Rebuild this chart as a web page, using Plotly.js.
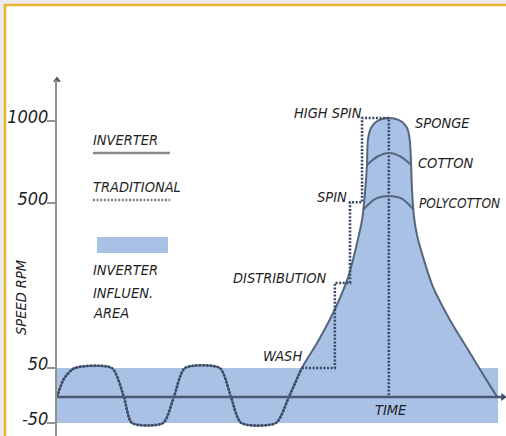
<!DOCTYPE html>
<html><head><meta charset="utf-8">
<script src="https://cdn.plot.ly/plotly-3.0.1.min.js"></script>
<style>html,body{margin:0;padding:0;background:#fff}#chart{width:506px;height:436px}</style>
</head><body><div id="chart"></div>
<script>
// ---- data (time in arbitrary units 0..100, speed in RPM) ----
const tickRPM = [1000, 500, 50, -50];
const tickLabels = ['1000', '500', '50', '-50'];

// wash phase (shared by inverter and traditional)
const washT   = [0, 1.6, 4.0, 12.3, 15.0, 16.8, 23.8, 26.2, 28.7, 36.5, 39.0, 41.3, 49.1, 52.0, 54.9];
const washRPM = [0, 32, 50, 50, 0, -50, -50, 0, 50, 50, 0, -50, -50, 0, 50];

// inverter spin profile
const spinT   = [58.3, 61.9, 65.2, 68.4, 69.1, 69.5, 69.7, 70.4, 71.5, 72.9, 74.4, 76.0, 77.4, 78.5, 79.1, 79.4, 79.6, 80.0, 80.7, 81.8, 84.3, 88.1, 92.6, 96.0, 98.7];
const spinRPM = [118, 200, 295, 454, 579, 732, 884, 957, 994, 1012, 1018, 1012, 994, 957, 884, 732, 579, 467, 413, 364, 271, 181, 91, 33, 0];

// traditional step profile
const tradT   = [54.9, 62.3, 62.3, 65.7, 65.7, 68.4, 68.4, 74.4, 74.4];
const tradRPM = [50, 50, 282, 282, 505, 505, 1018, 1018, 0];

// fabric curves inside the spin peak
const cottonT   = [69.5, 72.0, 74.4, 76.9, 79.4];
const cottonRPM = [732, 785, 805, 785, 732];
const polyT     = [68.6, 71.5, 74.4, 77.3, 80.0];
const polyRPM   = [481, 527, 543, 527, 481];

// inverter influence band
const bandT    = [0, 98.9];
const bandLow  = [-50, -50];
const bandHigh = [50, 50];

// ---- broken speed scale (as drawn on the reference axis) ----
const knotsRPM = [-50, 0, 50, 500, 1000];
const knotsPos = [-26, 0, 29, 194, 276];
function f(r) {
  let i = 0;
  if (r >= knotsRPM[knotsRPM.length - 1]) i = knotsRPM.length - 2;
  else if (r <= knotsRPM[0]) i = 0;
  else { while (r > knotsRPM[i + 1]) i++; }
  const r0 = knotsRPM[i], r1 = knotsRPM[i + 1], p0 = knotsPos[i], p1 = knotsPos[i + 1];
  return p0 + (r - r0) * (p1 - p0) / (r1 - r0);
}
const Y = a => a.map(f);

const FONT = 'DejaVu Sans Condensed, Liberation Sans Narrow, sans-serif';
const TXT = '#1e1e1e';
const BLUE = '#a9c1e5';
const INV = '#56667f';
const TRAD = '#3a4963';

// pixel helpers for decorations (plot area: x 57..503, y 80..436)
const L = 57, T = 80, W = 446, H = 356;
const px = x => (x - L) / W;
const py = y => (T + H - y) / H;

const traces = [
  { x: bandT, y: Y(bandLow), mode: 'lines', line: { width: 0 }, hoverinfo: 'skip' },
  { x: bandT, y: Y(bandHigh), mode: 'lines', line: { width: 0 }, fill: 'tonexty', fillcolor: BLUE, hoverinfo: 'skip' },
  { x: washT.concat(spinT), y: Y(washRPM.concat(spinRPM)), mode: 'lines',
    line: { color: INV, width: 2, shape: 'spline', smoothing: 0.7 }, fill: 'tozeroy', fillcolor: BLUE },
  { x: washT, y: Y(washRPM), mode: 'lines', line: { color: TRAD, width: 2.6, dash: '2px,1.6px', shape: 'spline', smoothing: 0.7 } },
  { x: tradT, y: Y(tradRPM), mode: 'lines', line: { color: TRAD, width: 2.6, dash: '2px,1.6px' } },
  { x: cottonT, y: Y(cottonRPM), mode: 'lines', line: { color: INV, width: 2, shape: 'spline' } },
  { x: polyT, y: Y(polyRPM), mode: 'lines', line: { color: INV, width: 2, shape: 'spline' } },
  { x: [100], y: [0], mode: 'markers', cliponaxis: false, marker: { symbol: 'triangle-right', size: 7, color: '#3a4660' } },
  { x: [0], y: [317], mode: 'markers', cliponaxis: false, marker: { symbol: 'triangle-up', size: 7, color: '#555' } }
];

function ann(text, x, y, xanchor, extra) {
  return Object.assign({ text, x: px(x), y: py(y), xref: 'paper', yref: 'paper', xanchor, yanchor: 'middle',
    showarrow: false, borderpad: 0, font: { family: FONT, size: 14.5, color: TXT, style: 'italic' } }, extra || {});
}

const annotations = [
  ann('HIGH SPIN', 363, 113, 'right'),
  ann('SPONGE', 414, 123, 'left'),
  ann('COTTON', 417, 163, 'left'),
  ann('POLYCOTTON', 418, 203, 'left', { font: { family: FONT, size: 13.5, color: TXT, style: 'italic' } }),
  ann('SPIN', 348, 197, 'right'),
  ann('DISTRIBUTION', 328, 278, 'right'),
  ann('WASH', 303, 356, 'right'),
  ann('TIME', 391, 410, 'center'),
  ann('INVERTER', 92, 140, 'left'),
  ann('TRADITIONAL', 92, 187, 'left'),
  ann('INVERTER', 92, 270, 'left'),
  ann('INFLUEN.', 92, 293, 'left'),
  ann('AREA', 92, 313, 'left'),
  ann('SPEED RPM', 21, 298, 'center', { textangle: -90 })
];

const shapes = [
  { type: 'rect', xref: 'paper', yref: 'paper', x0: px(-5), x1: px(515), y0: py(-5), y1: py(445), fillcolor: '#ebebeb', line: { width: 0 }, layer: 'below' },
  { type: 'rect', xref: 'paper', yref: 'paper', x0: px(5), x1: px(525), y0: py(5), y1: py(460), fillcolor: '#ffffff', line: { color: '#e6b432', width: 2.5 }, layer: 'below' },
  // time axis
  { type: 'line', xref: 'x', yref: 'y', x0: 0, x1: 100, y0: f(0), y1: f(0), line: { color: '#4b5a72', width: 2.5 }, layer: 'above' },
  // legend symbols
  { type: 'line', xref: 'paper', yref: 'paper', x0: px(93), x1: px(170), y0: py(153), y1: py(153), line: { color: '#8a8a8a', width: 2.5 } },
  { type: 'line', xref: 'paper', yref: 'paper', x0: px(93), x1: px(170), y0: py(200), y1: py(200), line: { color: '#7d7d80', width: 2.5, dash: '2px,1.6px' } },
  { type: 'rect', xref: 'paper', yref: 'paper', x0: px(97), x1: px(168), y0: py(253), y1: py(237), fillcolor: BLUE, line: { width: 0 } }
];

const layout = {
  width: 506, height: 436,
  margin: { l: L, r: 506 - L - W, t: T, b: 436 - T - H, pad: 0 },
  paper_bgcolor: '#ffffff', plot_bgcolor: 'rgba(0,0,0,0)',
  showlegend: false,
  xaxis: { range: [0, 100], visible: false, fixedrange: true },
  yaxis: {
    range: [-39, 317], showgrid: false, zeroline: false, showline: true, linecolor: '#929292', linewidth: 2,
    ticks: 'outside', ticklen: 8, tickwidth: 2, tickcolor: '#929292',
    tickvals: tickRPM.map(f), ticktext: tickLabels, ticklabelshift: -4, ticklabelstandoff: -5,
    ticklabeloverflow: 'allow',
    tickfont: { family: FONT, size: 18, color: TXT, style: 'italic' }, fixedrange: true
  },
  shapes, annotations
};

Plotly.newPlot('chart', traces, layout, { displayModeBar: false, staticPlot: true });
</script>
</body></html>
